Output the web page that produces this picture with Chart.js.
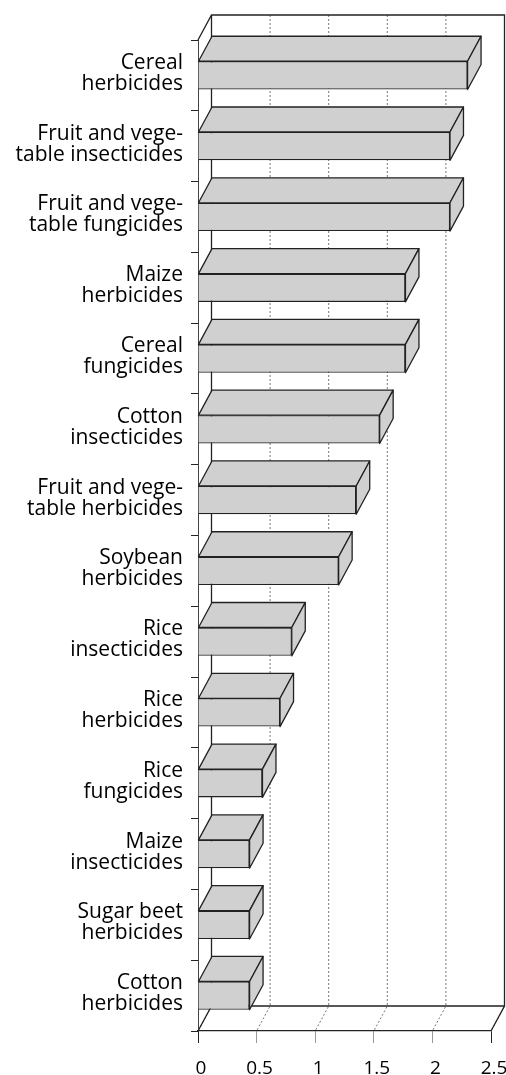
<!DOCTYPE html>
<html>
<head>
<meta charset="utf-8">
<script src="https://cdn.jsdelivr.net/npm/chart.js@4"></script>
<style>
  html, body { margin: 0; padding: 0; background: #fff; }
  #wrap { width: 506px; height: 1075px; }
</style>
</head>
<body>
<div id="wrap"><canvas id="myChart" width="506" height="1075"></canvas></div>
<script>
// categories, top to bottom (two lines each, as in the picture)
const categories = [
  ["Cereal", "herbicides"],
  ["Fruit and vege-", "table insecticides"],
  ["Fruit and vege-", "table fungicides"],
  ["Maize", "herbicides"],
  ["Cereal", "fungicides"],
  ["Cotton", "insecticides"],
  ["Fruit and vege-", "table herbicides"],
  ["Soybean", "herbicides"],
  ["Rice", "insecticides"],
  ["Rice", "herbicides"],
  ["Rice", "fungicides"],
  ["Maize", "insecticides"],
  ["Sugar beet", "herbicides"],
  ["Cotton", "herbicides"]
];
const values = [2.30, 2.15, 2.15, 1.77, 1.77, 1.55, 1.35, 1.20, 0.80, 0.70, 0.55, 0.44, 0.44, 0.44];
const xTicks = [0, 0.5, 1, 1.5, 2, 2.5];

// depth of the fake 3d box
const DX = 13.5, DY = -25;

const box3d = {
  id: 'box3d',
  beforeDatasetsDraw(chart) {
    const ctx = chart.ctx;
    const xs = chart.scales.x;
    const a = chart.chartArea;
    const bTop = a.top + DY, bBot = a.bottom + DY;
    const bLeft = a.left + DX, bRight = a.right + DX;
    ctx.save();
    //back wall + floor grid
    ctx.strokeStyle = '#777';
    ctx.lineWidth = 1;
    ctx.setLineDash([2, 2]);
    xTicks.forEach(function (v) {
      const x = xs.getPixelForValue(v);
      ctx.beginPath();
      ctx.moveTo(x + DX, bTop);
      ctx.lineTo(x + DX, bBot);
      ctx.lineTo(x, a.bottom);
      ctx.stroke();
    });
    // frame
    ctx.setLineDash([]);
    ctx.strokeStyle = '#222';
    ctx.lineWidth = 1.3;
    ctx.beginPath();
    ctx.moveTo(a.left, a.top);
    ctx.lineTo(bLeft, bTop);
    ctx.lineTo(bRight, bTop);
    ctx.lineTo(bRight, bBot);
    ctx.lineTo(a.right, a.bottom);
    ctx.moveTo(bLeft, bTop);
    ctx.lineTo(bLeft, bBot);
    ctx.lineTo(a.left, a.bottom);
    ctx.moveTo(bLeft, bBot);
    ctx.lineTo(bRight, bBot);
    ctx.stroke();
    ctx.restore();
  },
  afterDatasetsDraw(chart) {
    const ctx = chart.ctx;
    ctx.save();
    ctx.fillStyle = '#d0d0d0';
    ctx.strokeStyle = '#222';
    ctx.lineWidth = 1.3;
    ctx.lineJoin = 'round';
    chart.getDatasetMeta(0).data.forEach(function (bar) {
      const p = bar.getProps(['x', 'y', 'base', 'height'], true);
      const t = p.y - p.height / 2, b = p.y + p.height / 2;
      // top face
      ctx.beginPath();
      ctx.moveTo(p.base, t);
      ctx.lineTo(p.base + DX, t + DY);
      ctx.lineTo(p.x + DX, t + DY);
      ctx.lineTo(p.x, t);
      ctx.closePath();
      ctx.fill();
      ctx.stroke();
      // right face
      ctx.beginPath();
      ctx.moveTo(p.x, t);
      ctx.lineTo(p.x + DX, t + DY);
      ctx.lineTo(p.x + DX, b + DY);
      ctx.lineTo(p.x, b);
      ctx.closePath();
      ctx.fill();
      ctx.stroke();
    });
    ctx.restore();
  }
};

let myChart = new Chart(document.getElementById('myChart').getContext('2d'), {
  type: 'bar',
  data: {
    labels: categories,
    datasets: [{
      data: values,
      backgroundColor: '#d0d0d0',
      borderColor: '#222',
      borderWidth: 1.3,
      barPercentage: 0.4,
      categoryPercentage: 1
    }]
  },
  options: {
    indexAxis: 'y',
    responsive: false,
    devicePixelRatio: 1,
    animation: false,
    layout: { padding: { top: 40, right: 15, bottom: 0, left: 0 } },
    plugins: { legend: { display: false }, tooltip: { enabled: false } },
    scales: {
      x: {
        min: 0,
        max: 2.5,
        afterFit: function (scale) {
          scale.height = 44;
          scale.paddingLeft = 0;
          scale.paddingRight = 0;
        },
        ticks: {
          stepSize: 0.5,
          color: '#000',
          font: { family: 'Open Sans', size: 19 },
          padding: 14,
          labelOffset: 3,
          maxRotation: 0,
          callback: function (v) { return String(v); }
        },
        grid: {
          drawOnChartArea: false,
          tickLength: 12,
          color: function (c) {
            return (c.tick && (c.tick.value === 0 || c.tick.value === 2.5)) ? '#222' : '#999';
          }
        },
        border: { display: true, color: '#222', width: 1.3 }
      },
      y: {
        afterFit: function (scale) { scale.width = 198; },
        ticks: {
          color: '#000',
          font: { family: 'Open Sans', size: 21, lineHeight: 1.0 },
          padding: 8,
          labelOffset: -2
        },
        grid: {
          drawOnChartArea: false,
          tickLength: 7,
          color: '#222'
        },
        border: { display: true, color: '#444', width: 1 }
      }
    }
  },
  plugins: [box3d]
});
</script>
</body>
</html>
